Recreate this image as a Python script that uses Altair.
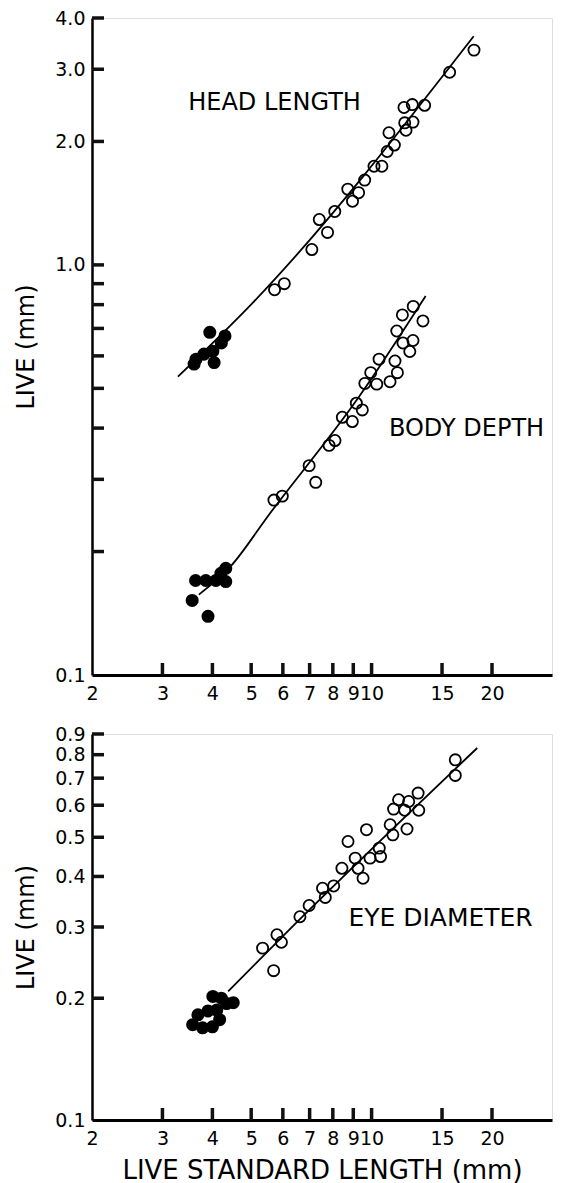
import math
import altair as alt
import pandas as pd

# ---------------- data ----------------
head_open_x = [18.03, 15.67, 12.05, 12.64, 13.57, 12.10, 12.69, 12.19, 11.05, 11.40, 10.94,
               10.14, 10.61, 9.61, 8.72, 9.28, 8.96, 8.09, 7.40, 7.76, 7.09, 5.72, 6.05]
head_open_y = [3.34, 2.95, 2.42, 2.46, 2.45, 2.22, 2.23, 2.13, 2.10, 1.96, 1.89,
               1.74, 1.74, 1.61, 1.53, 1.50, 1.43, 1.35, 1.29, 1.20, 1.09, 0.87, 0.90]
head_filled_x = [3.94, 4.30, 4.21, 4.01, 3.81, 3.64, 3.60, 4.04]
head_filled_y = [0.685, 0.671, 0.645, 0.616, 0.606, 0.589, 0.573, 0.578]
head_line_x = [3.28, 5.03, 18.0]
head_line_y = [0.534, 0.806, 3.61]

body_open_x = [12.71, 11.94, 13.44, 11.56, 12.69, 11.98, 12.46, 10.44, 11.44, 9.95, 11.60, 9.62,
               10.30, 11.12, 9.16, 9.48, 8.45, 8.95, 7.83, 8.10, 6.98, 7.25, 5.98, 5.70]
body_open_y = [0.792, 0.755, 0.730, 0.690, 0.654, 0.645, 0.615, 0.589, 0.583, 0.546, 0.546, 0.514,
               0.512, 0.519, 0.460, 0.443, 0.425, 0.415, 0.363, 0.373, 0.324, 0.295, 0.273, 0.267]
body_filled_x = [3.90, 3.56, 3.63, 3.85, 4.08, 4.32, 4.32, 4.20]
body_filled_y = [0.139, 0.152, 0.170, 0.170, 0.170, 0.169, 0.182, 0.177]
body_line_x = [3.70, 4.44, 5.54, 9.30, 13.65]
body_line_y = [0.157, 0.184, 0.246, 0.477, 0.840]

eye_open_x = [16.19, 16.19, 13.07, 11.68, 12.38, 11.35, 12.10, 13.12, 11.13, 12.26, 11.30, 9.71,
              8.73, 10.45, 10.53, 9.91, 9.10, 8.43, 9.25, 9.52, 8.04, 7.54, 7.66, 6.98, 6.62,
              5.80, 5.95, 5.34, 5.69]
eye_open_y = [0.777, 0.711, 0.643, 0.619, 0.613, 0.587, 0.583, 0.583, 0.537, 0.524, 0.507, 0.522,
              0.488, 0.470, 0.448, 0.444, 0.444, 0.419, 0.419, 0.396, 0.379, 0.374, 0.355, 0.339, 0.318,
              0.287, 0.275, 0.266, 0.234]
eye_filled_x = [3.57, 3.78, 4.00, 3.68, 3.90, 4.17, 4.01, 4.21, 4.34, 4.51, 4.10]
eye_filled_y = [0.172, 0.169, 0.170, 0.182, 0.186, 0.177, 0.202, 0.200, 0.194, 0.195, 0.187]
eye_line_x = [4.38, 6.09, 18.37]
eye_line_y = [0.208, 0.289, 0.831]

x_label_vals = [2, 3, 4, 5, 6, 7, 8, 9, 10, 15, 20]
x_tick_vals = [3, 4, 5, 6, 7, 8, 9, 10, 15, 20]
top_y_label_vals = [0.1, 1.0, 2.0, 3.0, 4.0]
top_y_tick_vals = [0.2, 0.3, 0.4, 0.5, 0.6, 0.7, 0.8, 0.9, 1.0, 2.0, 3.0, 4.0]
bot_y_label_vals = [0.1, 0.2, 0.3, 0.4, 0.5, 0.6, 0.7, 0.8, 0.9]
bot_y_tick_vals = [0.2, 0.3, 0.4, 0.5, 0.6, 0.7, 0.8, 0.9]

top_ann_labels = ["HEAD LENGTH", "BODY DEPTH"]
top_ann_x = [3.48, 11.05]
top_ann_y = [2.48, 0.398]
bot_ann_labels = ["EYE DIAMETER"]
bot_ann_x = [8.75]
bot_ann_y = [0.315]

# ---------------- styling ----------------
FONT = "DejaVu Sans"
INK = "#000000"
TICK_INK = "#111111"
W = 460
H1 = 657
H2 = 386
XDOM = [2, 28.25]
TICK = 12


def panel(open_sets, filled_sets, line_sets, ydom, ylabels, yticks, ann, ann_size, H, xtitle):
    xscale = alt.Scale(type="log", domain=XDOM, nice=False)
    yscale = alt.Scale(type="log", domain=ydom, nice=False)
    xaxis_kw = dict(values=x_label_vals, format="~g", ticks=False, grid=False,
                    domainWidth=3, domainColor=INK, labelFont=FONT, labelFontSize=19,
                    labelColor=INK, labelPadding=9, labelFlush=False, labelOverlap=False)
    if xtitle:
        xaxis = alt.Axis(title=xtitle, titleFont=FONT, titleFontSize=26, titleFontWeight="normal",
                         titleColor=INK, titlePadding=9, **xaxis_kw)
    else:
        xaxis = alt.Axis(title=None, **xaxis_kw)
    yaxis = alt.Axis(values=ylabels, format=".1f", ticks=False, grid=False,
                     domainWidth=2.5, domainColor=INK, labelFont=FONT, labelFontSize=19,
                     labelColor=INK, labelPadding=7, labelFlush=False, labelOverlap=False,
                     title="LIVE (mm)", titleFont=FONT, titleFontSize=24, titleFontWeight="normal",
                     titleColor=INK, titlePadding=16)
    X = alt.X("x:Q", scale=xscale, axis=xaxis)
    Y = alt.Y("y:Q", scale=yscale, axis=yaxis)

    layers = []
    # inward tick marks drawn as short rules (TICK pixels long), placed through the log scales
    ppd_x = W / math.log10(XDOM[1] / XDOM[0])
    ppd_y = H / math.log10(ydom[1] / ydom[0])
    y_in = ydom[0] * 10 ** (TICK / ppd_y)
    x_in = XDOM[0] * 10 ** (TICK / ppd_x)
    xt = pd.DataFrame({"x": x_tick_vals, "y": [ydom[0]] * len(x_tick_vals),
                       "y2": [y_in] * len(x_tick_vals)})
    layers.append(alt.Chart(xt).mark_rule(stroke=TICK_INK, strokeWidth=3.5).encode(
        x=X, y=Y, y2="y2:Q"))
    yt = pd.DataFrame({"y": yticks, "x": [XDOM[0]] * len(yticks), "x2": [x_in] * len(yticks)})
    layers.append(alt.Chart(yt).mark_rule(stroke=TICK_INK, strokeWidth=3.5).encode(
        y=Y, x=X, x2="x2:Q"))

    for i, (lx, ly) in enumerate(line_sets):
        df = pd.DataFrame({"x": lx, "y": ly, "s": [f"l{i}"] * len(lx)})
        layers.append(alt.Chart(df).mark_line(stroke=INK, strokeWidth=1.8,
                                              interpolate="monotone").encode(
            x=X, y=Y, detail="s:N", order="x:Q"))
    for fx, fy in filled_sets:
        df = pd.DataFrame({"x": fx, "y": fy})
        layers.append(alt.Chart(df).mark_circle(color=INK, size=170, opacity=1).encode(x=X, y=Y))
    for ox, oy in open_sets:
        df = pd.DataFrame({"x": ox, "y": oy})
        layers.append(alt.Chart(df).mark_point(shape="circle", filled=False, size=125,
                                               stroke=INK, strokeWidth=1.8, opacity=1).encode(x=X, y=Y))

    labels, ax, ay = ann
    layers.append(alt.Chart(pd.DataFrame({"x": ax, "y": ay, "t": labels})).mark_text(
        align="left", baseline="middle", font=FONT, fontSize=ann_size, color=INK).encode(
        x=X, y=Y, text="t:N"))
    return alt.layer(*layers).properties(width=W, height=H)


top = panel([(head_open_x, head_open_y), (body_open_x, body_open_y)],
            [(head_filled_x, head_filled_y), (body_filled_x, body_filled_y)],
            [(head_line_x, head_line_y), (body_line_x, body_line_y)],
            [0.1, 4.0], top_y_label_vals, top_y_tick_vals,
            (top_ann_labels, top_ann_x, top_ann_y), 24, H1, None)

bottom = panel([(eye_open_x, eye_open_y)],
               [(eye_filled_x, eye_filled_y)],
               [(eye_line_x, eye_line_y)],
               [0.1, 0.9], bot_y_label_vals, bot_y_tick_vals,
               (bot_ann_labels, bot_ann_x, bot_ann_y), 25, H2, "LIVE STANDARD LENGTH (mm)")

chart = alt.vconcat(top, bottom, spacing=20).properties(
    padding={"left": 6, "top": 0, "right": 0, "bottom": 0}
).configure_view(stroke=None).configure(background="white")

chart.save("out.html", embed_options={"renderer": "svg", "actions": False})
